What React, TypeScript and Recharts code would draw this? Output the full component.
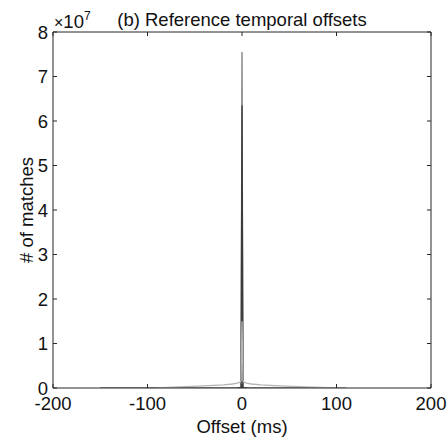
import React from "react";
import { LineChart, Line, XAxis, YAxis } from "recharts";

// offsets in ms
const offsets = [-200, -150, -120, -90, -60, -40, -20, -10, -5, -2, -1, 0, 1, 2, 5, 10, 20, 40, 60, 90, 110, 150, 200];

// counts per offset (null = nothing drawn there)
const medium = [null, 0, 0, 0, 0, 0, 0, 0, 0, 0, 0, 7.55e7, 0, 0, 0, 0, 0, 0, 0, 0, 0, null, null];
const dark = [null, null, null, null, null, null, null, null, 0, 0, 0, 6.35e7, 0, 0, 0, null, null, null, null, null, null, null, null];
const light = [null, null, null, 0, 0.03e7, 0.05e7, 0.07e7, 0.09e7, 0.11e7, 0.13e7, 0.16e7, 1.5e7, 0.16e7, 0.13e7, 0.11e7, 0.09e7, 0.07e7, 0.05e7, 0.03e7, 0.01e7, 0, null, null];

const xTicks = [-200, -100, 0, 100, 200];
const yTicks = [0, 1e7, 2e7, 3e7, 4e7, 5e7, 6e7, 7e7, 8e7];

const rows = offsets.map((t, i) => ({ t, medium: medium[i], dark: dark[i], light: light[i] }));

const FONT = '"Liberation Sans", Arial, Helvetica, sans-serif';
const AXIS = "#262626";
const TICK = 4;
const FS = 18.5;

const BottomTick = (props: any) => {
  const { x, y, payload } = props;
  return (
    <g>
      <line x1={x} y1={y} x2={x} y2={y - TICK} stroke={AXIS} strokeWidth={1} />
      <text x={x} y={y + 22} textAnchor="middle" fontSize={FS} fontFamily={FONT} fill="#111">
        {payload.value}
      </text>
    </g>
  );
};

const TopTick = (props: any) => {
  const { x, y } = props;
  return <line x1={x} y1={y} x2={x} y2={y + TICK} stroke={AXIS} strokeWidth={1} />;
};

const LeftTick = (props: any) => {
  const { x, y, payload } = props;
  return (
    <g>
      <line x1={x} y1={y} x2={x + TICK} y2={y} stroke={AXIS} strokeWidth={1} />
      <text x={x - 5} y={y + 6.5} textAnchor="end" fontSize={FS} fontFamily={FONT} fill="#111">
        {payload.value / 1e7}
      </text>
    </g>
  );
};

const RightTick = (props: any) => {
  const { x, y } = props;
  return <line x1={x} y1={y} x2={x - TICK} y2={y} stroke={AXIS} strokeWidth={1} />;
};

export default function App() {
  return (
    <div style={{ position: "absolute", left: 0, top: 0, width: 447, height: 440, background: "#fff" }}>
      <LineChart width={447} height={440} data={rows} margin={{ top: 0, right: 0, bottom: 0, left: 0 }}>
        <XAxis
          xAxisId="0"
          dataKey="t"
          type="number"
          domain={[-200, 200]}
          ticks={xTicks}
          height={52}
          tickSize={0}
          tickMargin={0}
          tickLine={false}
          axisLine={{ stroke: AXIS }}
          tick={<BottomTick />}
          allowDataOverflow
        />
        <XAxis
          xAxisId="top"
          orientation="top"
          dataKey="t"
          type="number"
          domain={[-200, 200]}
          ticks={xTicks}
          height={32}
          tickSize={0}
          tickMargin={0}
          tickLine={false}
          axisLine={{ stroke: AXIS }}
          tick={<TopTick />}
          allowDataOverflow
        />
        <YAxis
          yAxisId="0"
          type="number"
          domain={[0, 8e7]}
          ticks={yTicks}
          width={53}
          tickSize={0}
          tickMargin={0}
          tickLine={false}
          axisLine={{ stroke: AXIS }}
          tick={<LeftTick />}
          allowDataOverflow
        />
        <YAxis
          yAxisId="right"
          orientation="right"
          type="number"
          domain={[0, 8e7]}
          ticks={yTicks}
          width={16}
          tickSize={0}
          tickMargin={0}
          tickLine={false}
          axisLine={{ stroke: AXIS }}
          tick={<RightTick />}
          allowDataOverflow
        />
        <Line xAxisId="0" yAxisId="0" type="linear" dataKey="medium" stroke="#7a7a7a" strokeWidth={1.3} dot={false} isAnimationActive={false} connectNulls={false} />
        <Line xAxisId="0" yAxisId="0" type="linear" dataKey="dark" stroke="#3c3c3c" strokeWidth={1.3} dot={false} isAnimationActive={false} connectNulls={false} />
        <Line xAxisId="0" yAxisId="0" type="linear" dataKey="light" stroke="#b4b4b4" strokeWidth={1.3} dot={false} isAnimationActive={false} connectNulls={false} />
      </LineChart>
      <svg width={447} height={440} style={{ position: "absolute", left: 0, top: 0, pointerEvents: "none" }}>
        <text x={242} y={26} textAnchor="middle" fontSize={FS} fontFamily={FONT} fill="#111">
          (b) Reference temporal offsets
        </text>
        <text x={54} y={27.5} fontSize={FS} fontFamily={FONT} fill="#111">
          <tspan fontSize={16}>×</tspan>
          <tspan>10</tspan>
          <tspan fontSize={12} dy={-8}>7</tspan>
        </text>
        <text x={33} y={210} transform="rotate(-90, 33, 210)" textAnchor="middle" fontSize={FS} fontFamily={FONT} fill="#111">
          # of matches
        </text>
        <text x={242} y={433} textAnchor="middle" fontSize={FS} fontFamily={FONT} fill="#111">
          Offset (ms)
        </text>
      </svg>
    </div>
  );
}
